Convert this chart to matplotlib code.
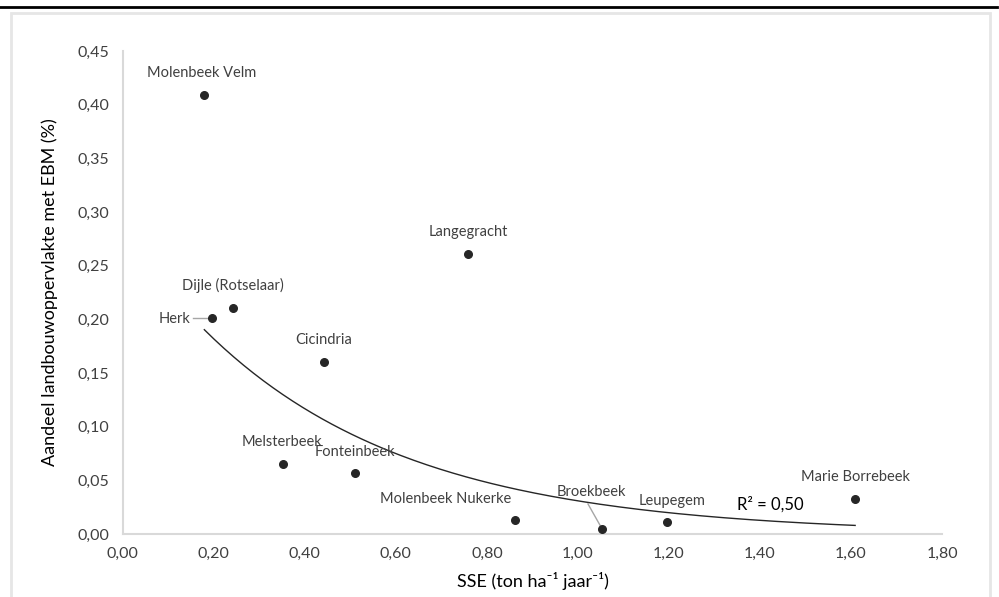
import numpy as np
import matplotlib
matplotlib.use("Agg")
import matplotlib.pyplot as plt
from matplotlib.patches import Rectangle
from matplotlib.lines import Line2D

plt.rcParams['font.family'] = ['Lato', 'DejaVu Sans']

# data
names = ["Molenbeek Velm", "Langegracht", "Dijle (Rotselaar)", "Herk", "Cicindria",
         "Melsterbeek", "Fonteinbeek", "Molenbeek Nukerke", "Broekbeek", "Leupegem",
         "Marie Borrebeek"]
sse = [0.179, 0.758, 0.242, 0.196, 0.442, 0.352, 0.510, 0.862, 1.053, 1.196, 1.609]
ebm = [0.409, 0.261, 0.211, 0.201, 0.160, 0.065, 0.057, 0.013, 0.005, 0.011, 0.033]

# exponential trendline
trend_a = 0.283
trend_b = -2.215
r2_text = "R² = 0,50"

xticks = [0, 0.2, 0.4, 0.6, 0.8, 1.0, 1.2, 1.4, 1.6, 1.8]
yticks = [0, 0.05, 0.10, 0.15, 0.20, 0.25, 0.30, 0.35, 0.40, 0.45]

txt = "#404040"
grey = "#d9d9d9"

fig = plt.figure(figsize=(9.99, 5.97), dpi=100)

# top rule and chart frame
fig.add_artist(Line2D([0, 0.998], [0.988, 0.988], color="black", lw=2, transform=fig.transFigure))
fig.add_artist(Rectangle((0.011, -0.05), 0.98, 1.028, transform=fig.transFigure,
                         fill=False, edgecolor="#e6e6e6", lw=2))

ax = fig.add_axes([0.123, 0.1055, 0.820, 0.809])
ax.scatter(sse, ebm, s=30, color="#262626", zorder=3)

xs = np.linspace(min(sse), max(sse), 200)
ax.plot(xs, trend_a * np.exp(trend_b * xs), color="#262626", lw=1.0, zorder=2)

# point labels: (dx, dy, ha)
offsets = {
    "Molenbeek Velm": (-0.005, 0.021, "center"),
    "Langegracht": (0.0, 0.020, "center"),
    "Dijle (Rotselaar)": (0.0, 0.021, "center"),
    "Herk": (-0.047, -0.001, "right"),
    "Cicindria": (0.0, 0.021, "center"),
    "Melsterbeek": (-0.002, 0.021, "center"),
    "Fonteinbeek": (0.0, 0.019, "center"),
    "Molenbeek Nukerke": (-0.153, 0.020, "center"),
    "Broekbeek": (-0.023, 0.034, "center"),
    "Leupegem": (0.01, 0.020, "center"),
    "Marie Borrebeek": (0.0, 0.020, "center"),
}
for n, x, y in zip(names, sse, ebm):
    dx, dy, ha = offsets[n]
    ax.text(x + dx, y + dy, n, ha=ha, va="center", fontsize=10.5, color=txt)

# leader lines
ax.plot([0.155, 0.190], [0.201, 0.201], color="#a6a6a6", lw=1, zorder=1)
ax.plot([1.022, 1.050], [0.028, 0.007], color="#a6a6a6", lw=1, zorder=1)

ax.text(1.35, 0.028, r2_text, ha="left", va="center", fontsize=12, color="black")

ax.set_xlim(0, 1.8)
ax.set_ylim(0, 0.45)
ax.set_xticks(xticks)
ax.set_yticks(yticks)
ax.set_xticklabels([f"{v:.2f}".replace(".", ",") for v in xticks])
ax.set_yticklabels([f"{v:.2f}".replace(".", ",") for v in yticks])
ax.tick_params(length=0, labelsize=11.5, colors=txt)
ax.tick_params(axis="x", pad=9)
ax.tick_params(axis="y", pad=10)
for s in ["top", "right"]:
    ax.spines[s].set_visible(False)
for s in ["left", "bottom"]:
    ax.spines[s].set_color(grey)
    ax.spines[s].set_linewidth(1.5)

ax.set_xlabel("SSE (ton ha⁻¹ jaar⁻¹)", fontsize=13, color="black", labelpad=8)
ax.set_ylabel("Aandeel landbouwoppervlakte met EBM (%)", fontsize=13, color="black", labelpad=14)

fig.savefig("out.png", dpi=100)
